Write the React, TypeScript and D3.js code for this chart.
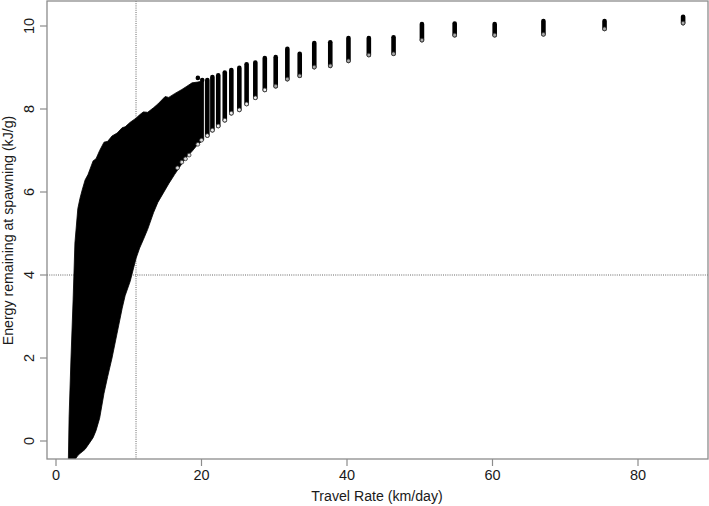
import React from "react";
import * as d3 from "d3";

const xTicks = [0, 20, 40, 60, 80];
const yTicks = [0, 2, 4, 6, 8, 10];
const refX = 11;
const refY = 4;
// outline of the solid mass of the cloud
const massX = [1.7, 1.8, 2.06, 2.35, 2.6, 3.0, 3.3, 3.6, 4.0, 4.4, 5.1, 5.5, 6.0, 6.6, 7.1, 7.7, 8.4, 9.1, 9.5, 10.2, 11.0, 11.5, 12.0, 12.6, 13.4, 14.0, 15.0, 15.5, 16.3, 17.3, 18.0, 18.7, 19.5, 20.3];
const massHigh = [-0.45, 0.58, 2.0, 3.4, 4.77, 5.6, 5.85, 6.05, 6.29, 6.42, 6.75, 6.8, 7.0, 7.2, 7.22, 7.35, 7.42, 7.55, 7.57, 7.68, 7.78, 7.86, 7.93, 7.92, 8.03, 8.12, 8.3, 8.28, 8.37, 8.47, 8.55, 8.63, 8.65, 8.68];
const massLow = [-0.45, -0.45, -0.45, -0.45, -0.45, -0.35, -0.3, -0.26, -0.2, -0.1, 0.08, 0.25, 0.55, 1.15, 1.55, 2.0, 2.6, 3.2, 3.5, 3.85, 4.4, 4.65, 4.85, 5.1, 5.5, 5.75, 6.05, 6.2, 6.42, 6.68, 6.85, 6.98, 7.15, 7.25];
// separate columns of points
const colX = [20.8, 21.5, 22.3, 23.2, 24.1, 25.2, 26.2, 27.4, 28.7, 30.2, 31.8, 33.5, 35.5, 37.7, 40.2, 43.0, 46.4, 50.3, 54.8, 60.3, 67.0, 75.4, 86.2];
const colHigh = [8.7, 8.77, 8.81, 8.88, 8.94, 8.99, 9.08, 9.12, 9.23, 9.25, 9.45, 9.33, 9.59, 9.61, 9.71, 9.71, 9.73, 10.05, 10.06, 10.05, 10.12, 10.12, 10.22];
const colLow = [7.36, 7.49, 7.59, 7.73, 7.9, 7.98, 8.12, 8.27, 8.46, 8.55, 8.72, 8.8, 9.01, 9.04, 9.16, 9.3, 9.33, 9.66, 9.78, 9.78, 9.8, 9.93, 10.07];
// stray points on the rim of the mass
const openX = [16.7, 17.3, 17.8, 18.3, 19.5, 20.0];
const openY = [6.58, 6.72, 6.8, 6.89, 7.15, 7.25];
const topDotX = [19.5, 20.1];
const topDotY = [8.75, 8.7];

const W = 709;
const H = 506;
const font = "Liberation Sans, Arial, sans-serif";
const axisColor = "#8c8c8c";
const inkColor = "#1a1a1a";

export default function App() {
  const x = d3.scaleLinear().domain([0, 80]).range([56, 638]);
  const y = d3.scaleLinear().domain([0, 10]).range([441, 26]);
  const area = d3.area<number>()
    .x((d) => x(d))
    .y0((_, i) => y(massLow[i]))
    .y1((_, i) => y(massHigh[i]));
  const left = 47, right = 708, top = 1, bottom = 459;
  return (
    <svg width={W} height={H} viewBox={`0 0 ${W} ${H}`} style={{ position: "absolute", left: 0, top: 0, background: "#fff" }} fontFamily={font}>
      <defs>
        <clipPath id="plot"><rect x={left} y={top} width={right - left} height={bottom - top} /></clipPath>
      </defs>
      <line x1={x(refX)} x2={x(refX)} y1={top} y2={bottom} stroke="#666" strokeWidth={1} strokeDasharray="1 1.2" />
      <line x1={left} x2={right} y1={y(refY)} y2={y(refY)} stroke="#666" strokeWidth={1} strokeDasharray="1 1.2" />
      <g clipPath="url(#plot)">
        <path d={area(massX) ?? ""} fill="#000" stroke="#000" strokeWidth={0.8} strokeLinejoin="round" />
        {openX.map((c, i) => (
          <circle key={c} cx={x(c)} cy={y(openY[i])} r={1.9} fill="#ddd" stroke="#333" strokeWidth={0.8} />
        ))}
        {topDotX.map((c, i) => (
          <circle key={c} cx={x(c)} cy={y(topDotY[i])} r={2.3} fill="#000" />
        ))}
        {colX.map((c, i) => (
          <g key={c}>
            <line x1={x(c)} x2={x(c)} y1={y(colHigh[i])} y2={y(colLow[i])} stroke="#000" strokeWidth={4.6} strokeLinecap="round" />
            <circle cx={x(c)} cy={y(colLow[i])} r={1.9} fill={c < 30 ? "#f0f0f0" : "#aaa"} stroke="#333" strokeWidth={0.8} />
          </g>
        ))}
      </g>
      <rect x={left} y={top} width={right - left} height={bottom - top} fill="none" stroke={axisColor} strokeWidth={1.3} />
      {xTicks.map((t) => (
        <g key={t}>
          <line x1={x(t)} x2={x(t)} y1={bottom} y2={bottom + 7} stroke={axisColor} strokeWidth={1.2} />
          <text x={x(t)} y={480} textAnchor="middle" fontSize={14.5} fill={inkColor}>{t}</text>
        </g>
      ))}
      {yTicks.map((t) => (
        <g key={t}>
          <line x1={left} x2={left - 7} y1={y(t)} y2={y(t)} stroke={axisColor} strokeWidth={1.2} />
          <text transform={`translate(34 ${y(t)}) rotate(-90)`} textAnchor="middle" fontSize={14.5} fill={inkColor}>{t}</text>
        </g>
      ))}
      <text x={377} y={501} textAnchor="middle" fontSize={14.15} fill={inkColor}>Travel Rate (km/day)</text>
      <text transform={`translate(13 230.5) rotate(-90)`} textAnchor="middle" fontSize={14.15} fill={inkColor}>Energy remaining at spawning (kJ/g)</text>
    </svg>
  );
}
